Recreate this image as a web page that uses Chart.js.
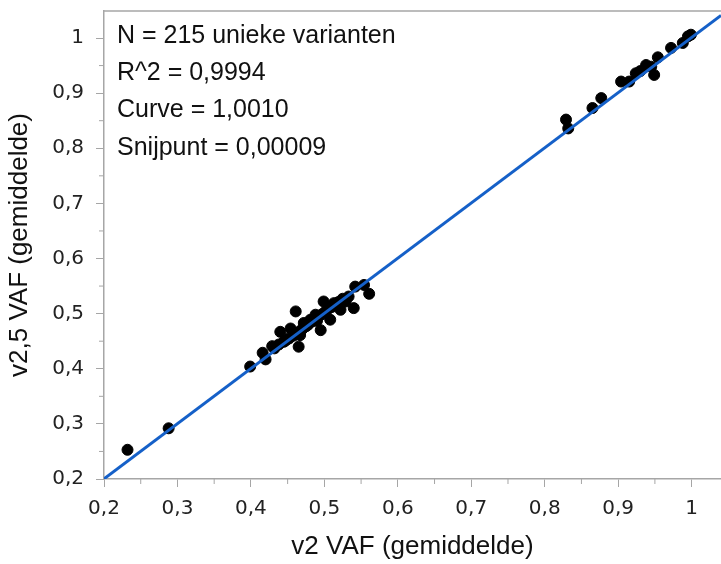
<!DOCTYPE html>
<html>
<head>
<meta charset="utf-8">
<script src="https://cdn.jsdelivr.net/npm/chart.js@4"></script>
<style>
  html, body { margin: 0; padding: 0; background: #fff; }
  #wrap { width: 721px; height: 564px; }
</style>
</head>
<body>
<div id="wrap"><canvas id="miGrafica" width="721" height="564"></canvas></div>
<script>
// gemiddelde VAF per variant
const v2Vaf = [
  0.232, 0.288,
  0.399, 0.416, 0.420, 0.429, 0.432, 0.438, 0.440, 0.445, 0.448, 0.452, 0.454, 0.458,
  0.461, 0.463, 0.465, 0.467, 0.470, 0.472, 0.475, 0.478, 0.481, 0.484, 0.486, 0.488,
  0.490, 0.492, 0.495, 0.497, 0.499, 0.501, 0.504, 0.506, 0.508, 0.510, 0.513, 0.516,
  0.519, 0.522, 0.525, 0.529, 0.533, 0.540, 0.542, 0.554, 0.561,
  0.829, 0.832, 0.865, 0.877, 0.904, 0.915, 0.924, 0.930, 0.938, 0.945, 0.949, 0.954,
  0.972, 0.988, 0.995, 0.999
];
const v25Vaf = [
  0.253, 0.292,
  0.404, 0.429, 0.417, 0.441, 0.437, 0.444, 0.467, 0.449, 0.452, 0.455, 0.473, 0.460,
  0.504, 0.466, 0.440, 0.461, 0.472, 0.483, 0.477, 0.480, 0.489, 0.486, 0.491, 0.498,
  0.487, 0.495, 0.470, 0.499, 0.522, 0.503, 0.507, 0.513, 0.489, 0.512, 0.519, 0.515,
  0.521, 0.507, 0.527, 0.522, 0.531, 0.510, 0.549, 0.552, 0.536,
  0.852, 0.836, 0.873, 0.891, 0.921, 0.921, 0.936, 0.940, 0.951, 0.948, 0.933, 0.965,
  0.982, 0.991, 1.003, 1.006
];

// lineaire fit
const fitCurve = 1.0010;
const fitSnijpunt = 0.00009;
const fitX = [0.2, 1.04];

const statRegels = [
  "N = 215 unieke varianten",
  "R^2 = 0,9994",
  "Curve = 1,0010",
  "Snijpunt = 0,00009"
];

const asMin = 0.2;
const asMaxX = 1.04;
const asMaxY = 1.049;
const asStap = 0.1;

const punten = v2Vaf.map((x, i) => ({ x: x, y: v25Vaf[i] }));
const fitPunten = fitX.map(x => ({ x: x, y: fitCurve * x + fitSnijpunt }));

function komma(v) {
  if (v > 1.0001) return "";
  return String(Math.round(v * 10) / 10).replace(".", ",");
}

const grijs = "#a6a6a6";
const fontTekst = "'Liberation Sans', Arial, sans-serif";
const fontTicks = "'DejaVu Sans', sans-serif";

// kader, kleine streepjes en de tekst linksboven
const extraPlugin = {
  id: "extra",
  afterDraw(chart) {
    const ctx = chart.ctx;
    const a = chart.chartArea;
    const sx = chart.scales.x;
    const sy = chart.scales.y;
    ctx.save();
    ctx.strokeStyle = grijs;
    ctx.lineWidth = 1.5;
    ctx.beginPath();
    ctx.moveTo(a.left, a.top);
    ctx.lineTo(a.right, a.top);
    ctx.stroke();
    ctx.lineWidth = 1;
    for (let v = asMin + asStap / 2; v < asMaxX; v += asStap) {
      const px = sx.getPixelForValue(v);
      ctx.beginPath();
      ctx.moveTo(px, a.bottom);
      ctx.lineTo(px, a.bottom + 5);
      ctx.stroke();
    }
    for (let v = asMin + asStap / 2; v < asMaxY; v += asStap) {
      const py = sy.getPixelForValue(v);
      ctx.beginPath();
      ctx.moveTo(a.left, py);
      ctx.lineTo(a.left - 5, py);
      ctx.stroke();
    }
    ctx.fillStyle = "#111";
    ctx.font = "25px " + fontTekst;
    ctx.textBaseline = "middle";
    statRegels.forEach((t, i) => {
      ctx.fillText(t, a.left + 13, a.top + 25 + i * 37.3);
    });
    ctx.restore();
  }
};

const ctx = document.getElementById("miGrafica").getContext("2d");
new Chart(ctx, {
  type: "scatter",
  data: {
    datasets: [
      {
        type: "line",
        label: "fit",
        data: fitPunten,
        borderColor: "#1560c8",
        borderWidth: 3,
        pointRadius: 0,
        fill: false,
        order: 0
      },
      {
        label: "varianten",
        data: punten,
        backgroundColor: "#000",
        borderColor: "#000",
        pointRadius: 5.5,
        order: 1
      }
    ]
  },
  options: {
    responsive: false,
    animation: false,
    layout: { autoPadding: false, padding: { top: 11, right: 0, bottom: 0, left: 0 } },
    plugins: {
      legend: { display: false },
      tooltip: { enabled: false }
    },
    scales: {
      x: {
        type: "linear",
        min: asMin,
        max: asMaxX,
        afterFit(scale) {
          scale.height = 85;
          scale.paddingLeft = 0;
          scale.paddingRight = 0;
        },
        ticks: {
          stepSize: asStap,
          includeBounds: false,
          autoSkip: false,
          maxRotation: 0,
          padding: 10,
          color: "#222",
          font: { family: fontTicks, size: 20 },
          callback: v => komma(v)
        },
        grid: {
          drawOnChartArea: false,
          tickLength: 8,
          color: grijs
        },
        border: { display: true, color: grijs, width: 1.5 },
        title: {
          display: true,
          text: "v2 VAF (gemiddelde)",
          color: "#111",
          font: { family: fontTekst, size: 26 },
          padding: { top: 0, bottom: 2 }
        }
      },
      y: {
        type: "linear",
        min: asMin,
        max: asMaxY,
        afterFit(scale) {
          scale.width = 104;
          scale.paddingTop = 0;
          scale.paddingBottom = 0;
        },
        ticks: {
          stepSize: asStap,
          includeBounds: false,
          autoSkip: false,
          padding: 12,
          color: "#222",
          font: { family: fontTicks, size: 20 },
          callback: v => komma(v)
        },
        grid: {
          drawOnChartArea: false,
          tickLength: 8,
          color: grijs
        },
        border: { display: true, color: grijs, width: 1.5 },
        title: {
          display: true,
          text: "v2,5 VAF (gemiddelde)",
          color: "#111",
          font: { family: fontTekst, size: 26 },
          padding: { top: 4, bottom: 0 }
        }
      }
    }
  },
  plugins: [extraPlugin]
});
</script>
</body>
</html>
